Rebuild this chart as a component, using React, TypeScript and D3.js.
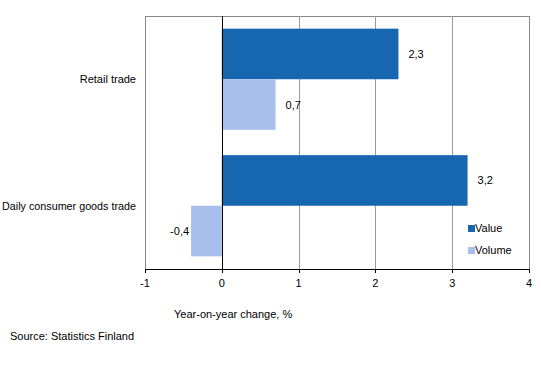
import React from "react";
import * as d3 from "d3";

const categories = ["Retail trade", "Daily consumer goods trade"];
const seriesNames = ["Value", "Volume"];
const valueSeries = [2.3, 3.2];
const volumeSeries = [0.7, -0.4];
const xTicks = [-1, 0, 1, 2, 3, 4];
const colors = ["#1767b0", "#a8bfeb"];

export default function App() {
  const W = 541, H = 365;
  const left = 145, right = 529, top = 16, bottom = 269;
  const x = d3.scaleLinear().domain([-1, 4]).range([left, right]);
  const y0 = d3.scaleBand().domain(categories).range([top, bottom]).paddingInner(0.2).paddingOuter(0.1);
  const y1 = d3.scaleBand().domain(seriesNames).range([0, y0.bandwidth()]);
  const series = [valueSeries, volumeSeries];
  const fmt = (v: number) => v.toFixed(1).replace(".", ",");
  const font = "'Liberation Sans', Arial, sans-serif";

  return (
    <svg width={W} height={H} style={{ position: "absolute", left: 0, top: 0 }} fontFamily={font}>
      <rect x={0} y={0} width={W} height={H} fill="#fff" />
      {/* plot border */}
      <line x1={left} x2={right} y1={top + 0.5} y2={top + 0.5} stroke="#888" />
      <line x1={left + 0.5} x2={left + 0.5} y1={top} y2={bottom} stroke="#888" />
      <line x1={right + 0.5} x2={right + 0.5} y1={top} y2={bottom} stroke="#888" />
      {xTicks.filter(t => t > 0 && t < 4).map(t => (
        <line key={t} x1={Math.round(x(t)) + 0.5} x2={Math.round(x(t)) + 0.5} y1={top} y2={bottom} stroke="#999" />
      ))}
      {categories.map((c, i) =>
        series.map((s, j) => {
          const v = s[i];
          const yy = (y0(c) as number) + (y1(seriesNames[j]) as number);
          const x0 = Math.min(x(0), x(v));
          const w = Math.abs(x(v) - x(0));
          return (
            <g key={c + j}>
              <rect x={x0} y={yy} width={w} height={y1.bandwidth()} fill={colors[j]} />
              <text
                x={v >= 0 ? x(v) + 10 : x(v) - 2}
                y={yy + y1.bandwidth() / 2 + 4}
                fontSize={11}
                textAnchor={v >= 0 ? "start" : "end"}
                fill="#000"
              >{fmt(v)}</text>
            </g>
          );
        })
      )}
      {/* zero line */}
      <line x1={Math.round(x(0)) + 0.5} x2={Math.round(x(0)) + 0.5} y1={top} y2={bottom} stroke="#000" />
      {/* x axis */}
      <line x1={left} x2={right + 1} y1={bottom + 0.5} y2={bottom + 0.5} stroke="#000" />
      {xTicks.map(t => (
        <g key={t}>
          <line x1={Math.round(x(t)) + 0.5} x2={Math.round(x(t)) + 0.5} y1={bottom} y2={bottom + 4} stroke="#000" />
          <text x={x(t)} y={bottom + 18} fontSize={11} textAnchor="middle">{t}</text>
        </g>
      ))}
      {categories.map(c => (
        <text
          key={c}
          x={136}
          y={(y0(c) as number) + y0.bandwidth() / 2 + 4}
          fontSize={11}
          textAnchor="end"
          {...(c.length > 20 ? { textLength: 134, lengthAdjust: "spacingAndGlyphs" } : {})}
        >{c}</text>
      ))}
      {seriesNames.map((n, j) => (
        <g key={n}>
          <rect x={468} y={225 + j * 22} width={7} height={7} fill={colors[j]} />
          <text x={475} y={232 + j * 22} fontSize={11}>{n}</text>
        </g>
      ))}
      <text x={174} y={318} fontSize={11}>Year-on-year change, %</text>
      <text x={10} y={340} fontSize={11}>Source: Statistics Finland</text>
    </svg>
  );
}
